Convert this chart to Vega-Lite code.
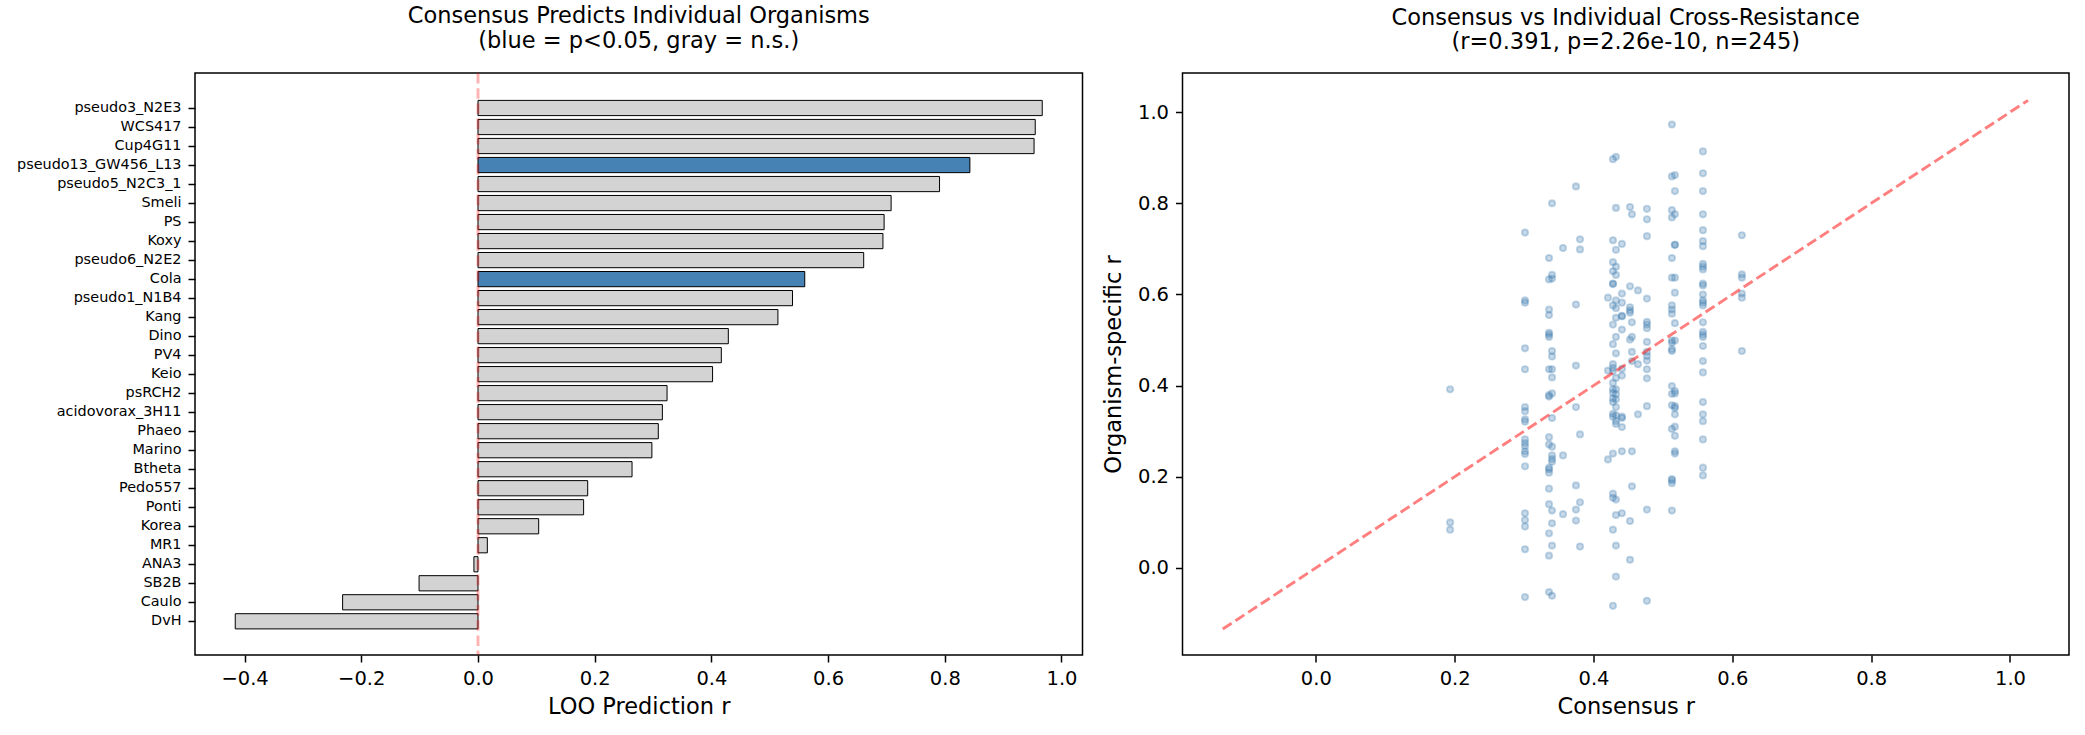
{
  "$schema": "https://vega.github.io/schema/vega-lite/v6.json",
  "autosize": {"type": "pad"},
  "padding": {"left": 15, "top": 4, "right": 15, "bottom": 10},
  "spacing": 99.5,
  "bounds": "flush",
  "config": {
    "font": "DejaVu Sans",
    "background": "white",
    "view": {"stroke": "black", "strokeWidth": 1.5},
    "axis": {
      "domain": false, "grid": false,
      "tickColor": "black", "tickWidth": 1.5, "tickSize": 7,
      "labelPadding": 7, "labelColor": "black", "labelFontSize": 19.5,
      "labelFont": "DejaVu Sans", "labelFlush": false, "labelOverlap": false,
      "titleFont": "DejaVu Sans", "titleFontSize": 22.5, "titleFontWeight": "normal", "titleColor": "black"
    },
    "title": {"font": "DejaVu Sans", "fontSize": 22.5, "fontWeight": "normal", "color": "black", "lineHeight": 24.3, "offset": 19.3, "anchor": "middle"}
  },
  "datasets": {
    "loo": [
      {"organism": "pseudo3_N2E3", "r": 0.967, "sig": "n.s."},
      {"organism": "WCS417", "r": 0.955, "sig": "n.s."},
      {"organism": "Cup4G11", "r": 0.953, "sig": "n.s."},
      {"organism": "pseudo13_GW456_L13", "r": 0.843, "sig": "p<0.05"},
      {"organism": "pseudo5_N2C3_1", "r": 0.791, "sig": "n.s."},
      {"organism": "Smeli", "r": 0.708, "sig": "n.s."},
      {"organism": "PS", "r": 0.696, "sig": "n.s."},
      {"organism": "Koxy", "r": 0.694, "sig": "n.s."},
      {"organism": "pseudo6_N2E2", "r": 0.661, "sig": "n.s."},
      {"organism": "Cola", "r": 0.560, "sig": "p<0.05"},
      {"organism": "pseudo1_N1B4", "r": 0.539, "sig": "n.s."},
      {"organism": "Kang", "r": 0.514, "sig": "n.s."},
      {"organism": "Dino", "r": 0.429, "sig": "n.s."},
      {"organism": "PV4", "r": 0.417, "sig": "n.s."},
      {"organism": "Keio", "r": 0.402, "sig": "n.s."},
      {"organism": "psRCH2", "r": 0.324, "sig": "n.s."},
      {"organism": "acidovorax_3H11", "r": 0.316, "sig": "n.s."},
      {"organism": "Phaeo", "r": 0.309, "sig": "n.s."},
      {"organism": "Marino", "r": 0.298, "sig": "n.s."},
      {"organism": "Btheta", "r": 0.264, "sig": "n.s."},
      {"organism": "Pedo557", "r": 0.188, "sig": "n.s."},
      {"organism": "Ponti", "r": 0.181, "sig": "n.s."},
      {"organism": "Korea", "r": 0.104, "sig": "n.s."},
      {"organism": "MR1", "r": 0.016, "sig": "n.s."},
      {"organism": "ANA3", "r": -0.007, "sig": "n.s."},
      {"organism": "SB2B", "r": -0.101, "sig": "n.s."},
      {"organism": "Caulo", "r": -0.232, "sig": "n.s."},
      {"organism": "DvH", "r": -0.416, "sig": "n.s."}
    ],
    "zero": [{"ref": 0}],
    "diag": [
      {"consensus_r": -0.134, "organism_r": -0.134},
      {"consensus_r": 1.026, "organism_r": 1.026}
    ],
    "pts": [
      {"consensus_r": 0.1935, "organism_r": 0.392}, {"consensus_r": 0.1935, "organism_r": 0.100}, {"consensus_r": 0.1935, "organism_r": 0.084},
      {"consensus_r": 0.3014, "organism_r": 0.736}, {"consensus_r": 0.3014, "organism_r": 0.587}, {"consensus_r": 0.3014, "organism_r": 0.582}, {"consensus_r": 0.3014, "organism_r": 0.482}, {"consensus_r": 0.3014, "organism_r": 0.436}, {"consensus_r": 0.3014, "organism_r": 0.353}, {"consensus_r": 0.3014, "organism_r": 0.344}, {"consensus_r": 0.3014, "organism_r": 0.326}, {"consensus_r": 0.3014, "organism_r": 0.321}, {"consensus_r": 0.3014, "organism_r": 0.282}, {"consensus_r": 0.3014, "organism_r": 0.274}, {"consensus_r": 0.3014, "organism_r": 0.267}, {"consensus_r": 0.3014, "organism_r": 0.256}, {"consensus_r": 0.3014, "organism_r": 0.250}, {"consensus_r": 0.3014, "organism_r": 0.223}, {"consensus_r": 0.3014, "organism_r": 0.120}, {"consensus_r": 0.3014, "organism_r": 0.105}, {"consensus_r": 0.3014, "organism_r": 0.091}, {"consensus_r": 0.3014, "organism_r": 0.041}, {"consensus_r": 0.3014, "organism_r": -0.064},
      {"consensus_r": 0.336, "organism_r": 0.680}, {"consensus_r": 0.336, "organism_r": 0.633}, {"consensus_r": 0.336, "organism_r": 0.567}, {"consensus_r": 0.336, "organism_r": 0.555}, {"consensus_r": 0.336, "organism_r": 0.516}, {"consensus_r": 0.336, "organism_r": 0.512}, {"consensus_r": 0.336, "organism_r": 0.507}, {"consensus_r": 0.336, "organism_r": 0.436}, {"consensus_r": 0.336, "organism_r": 0.379}, {"consensus_r": 0.336, "organism_r": 0.376}, {"consensus_r": 0.336, "organism_r": 0.287}, {"consensus_r": 0.336, "organism_r": 0.271}, {"consensus_r": 0.336, "organism_r": 0.220}, {"consensus_r": 0.336, "organism_r": 0.216}, {"consensus_r": 0.336, "organism_r": 0.209}, {"consensus_r": 0.336, "organism_r": 0.174}, {"consensus_r": 0.336, "organism_r": 0.140}, {"consensus_r": 0.336, "organism_r": 0.076}, {"consensus_r": 0.336, "organism_r": 0.027}, {"consensus_r": 0.336, "organism_r": -0.053},
      {"consensus_r": 0.3403, "organism_r": 0.800}, {"consensus_r": 0.3403, "organism_r": 0.643}, {"consensus_r": 0.3403, "organism_r": 0.635}, {"consensus_r": 0.3403, "organism_r": 0.476}, {"consensus_r": 0.3403, "organism_r": 0.464}, {"consensus_r": 0.3403, "organism_r": 0.436}, {"consensus_r": 0.3403, "organism_r": 0.418}, {"consensus_r": 0.3403, "organism_r": 0.383}, {"consensus_r": 0.3403, "organism_r": 0.329}, {"consensus_r": 0.3403, "organism_r": 0.266}, {"consensus_r": 0.3403, "organism_r": 0.247}, {"consensus_r": 0.3403, "organism_r": 0.239}, {"consensus_r": 0.3403, "organism_r": 0.233}, {"consensus_r": 0.3403, "organism_r": 0.126}, {"consensus_r": 0.3403, "organism_r": 0.098}, {"consensus_r": 0.3403, "organism_r": 0.049}, {"consensus_r": 0.3403, "organism_r": -0.061},
      {"consensus_r": 0.3561, "organism_r": 0.702}, {"consensus_r": 0.3561, "organism_r": 0.247}, {"consensus_r": 0.3561, "organism_r": 0.118},
      {"consensus_r": 0.3748, "organism_r": 0.837}, {"consensus_r": 0.3748, "organism_r": 0.578}, {"consensus_r": 0.3748, "organism_r": 0.444}, {"consensus_r": 0.3748, "organism_r": 0.353}, {"consensus_r": 0.3748, "organism_r": 0.181}, {"consensus_r": 0.3748, "organism_r": 0.128}, {"consensus_r": 0.3748, "organism_r": 0.104},
      {"consensus_r": 0.3806, "organism_r": 0.721}, {"consensus_r": 0.3806, "organism_r": 0.699}, {"consensus_r": 0.3806, "organism_r": 0.293}, {"consensus_r": 0.3806, "organism_r": 0.144}, {"consensus_r": 0.3806, "organism_r": 0.047},
      {"consensus_r": 0.4209, "organism_r": 0.593}, {"consensus_r": 0.4209, "organism_r": 0.433}, {"consensus_r": 0.4209, "organism_r": 0.238},
      {"consensus_r": 0.4281, "organism_r": 0.897}, {"consensus_r": 0.4281, "organism_r": 0.719}, {"consensus_r": 0.4281, "organism_r": 0.671}, {"consensus_r": 0.4281, "organism_r": 0.651}, {"consensus_r": 0.4281, "organism_r": 0.624}, {"consensus_r": 0.4281, "organism_r": 0.623}, {"consensus_r": 0.4281, "organism_r": 0.576}, {"consensus_r": 0.4281, "organism_r": 0.534}, {"consensus_r": 0.4281, "organism_r": 0.491}, {"consensus_r": 0.4281, "organism_r": 0.447}, {"consensus_r": 0.4281, "organism_r": 0.439}, {"consensus_r": 0.4281, "organism_r": 0.432}, {"consensus_r": 0.4281, "organism_r": 0.406}, {"consensus_r": 0.4281, "organism_r": 0.392}, {"consensus_r": 0.4281, "organism_r": 0.384}, {"consensus_r": 0.4281, "organism_r": 0.372}, {"consensus_r": 0.4281, "organism_r": 0.364}, {"consensus_r": 0.4281, "organism_r": 0.338}, {"consensus_r": 0.4281, "organism_r": 0.332}, {"consensus_r": 0.4281, "organism_r": 0.251}, {"consensus_r": 0.4281, "organism_r": 0.163}, {"consensus_r": 0.4281, "organism_r": 0.154}, {"consensus_r": 0.4281, "organism_r": 0.084}, {"consensus_r": 0.4281, "organism_r": -0.083},
      {"consensus_r": 0.4324, "organism_r": 0.902}, {"consensus_r": 0.4324, "organism_r": 0.790}, {"consensus_r": 0.4324, "organism_r": 0.698}, {"consensus_r": 0.4324, "organism_r": 0.661}, {"consensus_r": 0.4324, "organism_r": 0.643}, {"consensus_r": 0.4324, "organism_r": 0.587}, {"consensus_r": 0.4324, "organism_r": 0.570}, {"consensus_r": 0.4324, "organism_r": 0.549}, {"consensus_r": 0.4324, "organism_r": 0.507}, {"consensus_r": 0.4324, "organism_r": 0.471}, {"consensus_r": 0.4324, "organism_r": 0.417}, {"consensus_r": 0.4324, "organism_r": 0.392}, {"consensus_r": 0.4324, "organism_r": 0.381}, {"consensus_r": 0.4324, "organism_r": 0.370}, {"consensus_r": 0.4324, "organism_r": 0.353}, {"consensus_r": 0.4324, "organism_r": 0.335}, {"consensus_r": 0.4324, "organism_r": 0.322}, {"consensus_r": 0.4324, "organism_r": 0.316}, {"consensus_r": 0.4324, "organism_r": 0.150}, {"consensus_r": 0.4324, "organism_r": 0.116}, {"consensus_r": 0.4324, "organism_r": 0.049}, {"consensus_r": 0.4324, "organism_r": -0.019},
      {"consensus_r": 0.441, "organism_r": 0.711}, {"consensus_r": 0.441, "organism_r": 0.602}, {"consensus_r": 0.441, "organism_r": 0.582}, {"consensus_r": 0.441, "organism_r": 0.553}, {"consensus_r": 0.441, "organism_r": 0.552}, {"consensus_r": 0.441, "organism_r": 0.523}, {"consensus_r": 0.441, "organism_r": 0.437}, {"consensus_r": 0.441, "organism_r": 0.422}, {"consensus_r": 0.441, "organism_r": 0.332}, {"consensus_r": 0.441, "organism_r": 0.329}, {"consensus_r": 0.441, "organism_r": 0.309}, {"consensus_r": 0.441, "organism_r": 0.256}, {"consensus_r": 0.441, "organism_r": 0.120},
      {"consensus_r": 0.4526, "organism_r": 0.792}, {"consensus_r": 0.4526, "organism_r": 0.618}, {"consensus_r": 0.4526, "organism_r": 0.572}, {"consensus_r": 0.4526, "organism_r": 0.565}, {"consensus_r": 0.4526, "organism_r": 0.560}, {"consensus_r": 0.4526, "organism_r": 0.501}, {"consensus_r": 0.4526, "organism_r": 0.103}, {"consensus_r": 0.4526, "organism_r": 0.018},
      {"consensus_r": 0.4554, "organism_r": 0.776}, {"consensus_r": 0.4554, "organism_r": 0.539}, {"consensus_r": 0.4554, "organism_r": 0.507}, {"consensus_r": 0.4554, "organism_r": 0.474}, {"consensus_r": 0.4554, "organism_r": 0.454}, {"consensus_r": 0.4554, "organism_r": 0.256}, {"consensus_r": 0.4554, "organism_r": 0.179},
      {"consensus_r": 0.4641, "organism_r": 0.609}, {"consensus_r": 0.4641, "organism_r": 0.447}, {"consensus_r": 0.4641, "organism_r": 0.337},
      {"consensus_r": 0.477, "organism_r": 0.788}, {"consensus_r": 0.477, "organism_r": 0.765}, {"consensus_r": 0.477, "organism_r": 0.728}, {"consensus_r": 0.477, "organism_r": 0.591}, {"consensus_r": 0.477, "organism_r": 0.540}, {"consensus_r": 0.477, "organism_r": 0.534}, {"consensus_r": 0.477, "organism_r": 0.526}, {"consensus_r": 0.477, "organism_r": 0.496}, {"consensus_r": 0.477, "organism_r": 0.474}, {"consensus_r": 0.477, "organism_r": 0.465}, {"consensus_r": 0.477, "organism_r": 0.455}, {"consensus_r": 0.477, "organism_r": 0.436}, {"consensus_r": 0.477, "organism_r": 0.416}, {"consensus_r": 0.477, "organism_r": 0.355}, {"consensus_r": 0.477, "organism_r": 0.128}, {"consensus_r": 0.477, "organism_r": -0.072},
      {"consensus_r": 0.513, "organism_r": 0.973}, {"consensus_r": 0.513, "organism_r": 0.859}, {"consensus_r": 0.513, "organism_r": 0.785}, {"consensus_r": 0.513, "organism_r": 0.769}, {"consensus_r": 0.513, "organism_r": 0.680}, {"consensus_r": 0.513, "organism_r": 0.637}, {"consensus_r": 0.513, "organism_r": 0.576}, {"consensus_r": 0.513, "organism_r": 0.567}, {"consensus_r": 0.513, "organism_r": 0.558}, {"consensus_r": 0.513, "organism_r": 0.499}, {"consensus_r": 0.513, "organism_r": 0.494}, {"consensus_r": 0.513, "organism_r": 0.480}, {"consensus_r": 0.513, "organism_r": 0.476}, {"consensus_r": 0.513, "organism_r": 0.399}, {"consensus_r": 0.513, "organism_r": 0.382}, {"consensus_r": 0.513, "organism_r": 0.357}, {"consensus_r": 0.513, "organism_r": 0.305}, {"consensus_r": 0.513, "organism_r": 0.195}, {"consensus_r": 0.513, "organism_r": 0.192}, {"consensus_r": 0.513, "organism_r": 0.186}, {"consensus_r": 0.513, "organism_r": 0.126},
      {"consensus_r": 0.5173, "organism_r": 0.862}, {"consensus_r": 0.5173, "organism_r": 0.827}, {"consensus_r": 0.5173, "organism_r": 0.776}, {"consensus_r": 0.5173, "organism_r": 0.709}, {"consensus_r": 0.5173, "organism_r": 0.709}, {"consensus_r": 0.5173, "organism_r": 0.637}, {"consensus_r": 0.5173, "organism_r": 0.604}, {"consensus_r": 0.5173, "organism_r": 0.537}, {"consensus_r": 0.5173, "organism_r": 0.499}, {"consensus_r": 0.5173, "organism_r": 0.388}, {"consensus_r": 0.5173, "organism_r": 0.383}, {"consensus_r": 0.5173, "organism_r": 0.355}, {"consensus_r": 0.5173, "organism_r": 0.351}, {"consensus_r": 0.5173, "organism_r": 0.337}, {"consensus_r": 0.5173, "organism_r": 0.310}, {"consensus_r": 0.5173, "organism_r": 0.290}, {"consensus_r": 0.5173, "organism_r": 0.256}, {"consensus_r": 0.5173, "organism_r": 0.251},
      {"consensus_r": 0.5577, "organism_r": 0.914}, {"consensus_r": 0.5577, "organism_r": 0.866}, {"consensus_r": 0.5577, "organism_r": 0.827}, {"consensus_r": 0.5577, "organism_r": 0.776}, {"consensus_r": 0.5577, "organism_r": 0.741}, {"consensus_r": 0.5577, "organism_r": 0.717}, {"consensus_r": 0.5577, "organism_r": 0.706}, {"consensus_r": 0.5577, "organism_r": 0.667}, {"consensus_r": 0.5577, "organism_r": 0.661}, {"consensus_r": 0.5577, "organism_r": 0.655}, {"consensus_r": 0.5577, "organism_r": 0.624}, {"consensus_r": 0.5577, "organism_r": 0.620}, {"consensus_r": 0.5577, "organism_r": 0.600}, {"consensus_r": 0.5577, "organism_r": 0.587}, {"consensus_r": 0.5577, "organism_r": 0.582}, {"consensus_r": 0.5577, "organism_r": 0.576}, {"consensus_r": 0.5577, "organism_r": 0.539}, {"consensus_r": 0.5577, "organism_r": 0.518}, {"consensus_r": 0.5577, "organism_r": 0.512}, {"consensus_r": 0.5577, "organism_r": 0.507}, {"consensus_r": 0.5577, "organism_r": 0.487}, {"consensus_r": 0.5577, "organism_r": 0.454}, {"consensus_r": 0.5577, "organism_r": 0.429}, {"consensus_r": 0.5577, "organism_r": 0.364}, {"consensus_r": 0.5577, "organism_r": 0.337}, {"consensus_r": 0.5577, "organism_r": 0.322}, {"consensus_r": 0.5577, "organism_r": 0.282}, {"consensus_r": 0.5577, "organism_r": 0.220}, {"consensus_r": 0.5577, "organism_r": 0.203},
      {"consensus_r": 0.6138, "organism_r": 0.730}, {"consensus_r": 0.6138, "organism_r": 0.644}, {"consensus_r": 0.6138, "organism_r": 0.637}, {"consensus_r": 0.6138, "organism_r": 0.602}, {"consensus_r": 0.6138, "organism_r": 0.593}, {"consensus_r": 0.6138, "organism_r": 0.476}
    ]
  },
  "hconcat": [
    {
      "width": 887.5,
      "height": 582,
      "title": {"text": ["Consensus Predicts Individual Organisms", "(blue = p<0.05, gray = n.s.)"]},
      "layer": [
        {
          "data": {"name": "loo"},
          "mark": {"type": "bar", "stroke": "black", "strokeWidth": 1},
          "encoding": {
            "y": {
              "field": "organism", "type": "nominal",
              "sort": {"field": "r", "order": "descending"},
              "scale": {"paddingInner": 0.2, "paddingOuter": 0, "range": [27.4, 555.9]},
              "axis": {"title": null, "labelFontSize": 14.4}
            },
            "x": {
              "field": "r", "type": "quantitative",
              "scale": {"domain": [-0.485, 1.036], "nice": false, "zero": false},
              "axis": {"values": [-0.4, -0.2, 0, 0.2, 0.4, 0.6, 0.8, 1.0], "format": ".1f", "title": "LOO Prediction r", "titlePadding": 8}
            },
            "color": {
              "field": "sig", "type": "nominal",
              "scale": {"domain": ["p<0.05", "n.s."], "range": ["#4682b4", "#d3d3d3"]},
              "legend": null
            }
          }
        },
        {
          "data": {"name": "zero"},
          "mark": {"type": "rule", "stroke": "#ff0000", "strokeOpacity": 0.3, "strokeWidth": 2.9, "strokeDash": [10.6, 4.6]},
          "encoding": {"x": {"field": "ref", "type": "quantitative"}}
        }
      ]
    },
    {
      "width": 886.5,
      "height": 582,
      "title": {"text": ["Consensus vs Individual Cross-Resistance", "(r=0.391, p=2.26e-10, n=245)"]},
      "layer": [
        {
          "data": {"name": "pts"},
          "mark": {"type": "point", "shape": "circle", "filled": true, "color": "#4682b4", "stroke": "#4682b4", "opacity": 1, "fillOpacity": 0.3, "strokeOpacity": 0.3, "strokeWidth": 1.9, "size": 40},
          "encoding": {
            "x": {
              "field": "consensus_r", "type": "quantitative",
              "scale": {"domain": [-0.192, 1.085], "nice": false, "zero": false},
              "axis": {"values": [0, 0.2, 0.4, 0.6, 0.8, 1.0], "format": ".1f", "title": "Consensus r", "titlePadding": 8}
            },
            "y": {
              "field": "organism_r", "type": "quantitative",
              "scale": {"domain": [-0.191, 1.086], "nice": false, "zero": false},
              "axis": {"values": [0, 0.2, 0.4, 0.6, 0.8, 1.0], "format": ".1f", "title": "Organism-specific r", "titlePadding": 12}
            }
          }
        },
        {
          "data": {"name": "diag"},
          "mark": {"type": "line", "stroke": "#ff0000", "strokeOpacity": 0.5, "strokeWidth": 2.9, "strokeDash": [10.6, 4.6]},
          "encoding": {
            "x": {"field": "consensus_r", "type": "quantitative"},
            "y": {"field": "organism_r", "type": "quantitative"}
          }
        }
      ]
    }
  ]
}
